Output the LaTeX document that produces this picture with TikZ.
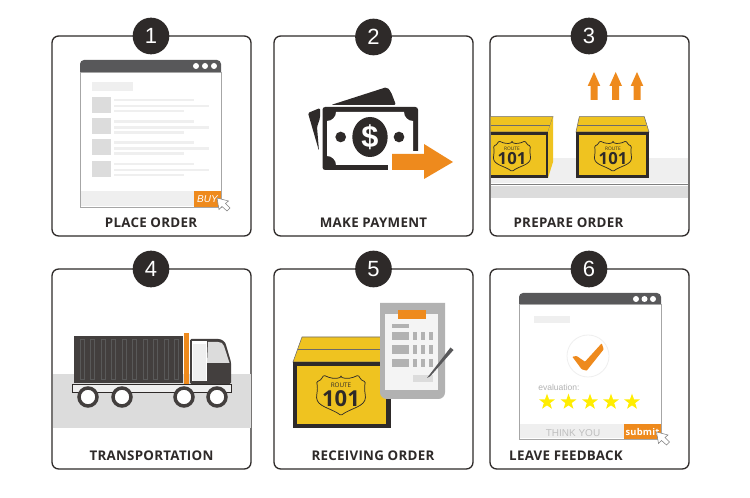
\documentclass[tikz,border=0pt]{standalone}
\usepackage{fontspec}
\setmainfont{Liberation Sans}
\newfontfamily\labelfont[LetterSpace=2]{Open Sans}
\newfontfamily\shieldfont{Open Sans}
\usepackage{tikz}
\usetikzlibrary{shapes.geometric, positioning}
\definecolor{inkdark}{HTML}{2E2A29}
\definecolor{barGray}{HTML}{58585A}
\definecolor{accent}{HTML}{EE8A1D}
\definecolor{boxYellow}{HTML}{EFC320}
\definecolor{paleGray}{HTML}{EFEFEF}
\definecolor{midGray}{HTML}{DCDCDC}

\begin{document}
\begin{tikzpicture}[x=0.75pt, y=-0.75pt,
  panel/.style={draw=inkdark, line width=1pt, fill=white, rounded corners=5pt, minimum width=149.25pt, minimum height=150pt},
  badge/.style={circle, fill=inkdark, text=white, minimum size=27.5pt, inner sep=0pt, font=\fontsize{16.5}{18}\selectfont},
  caption/.style={font=\labelfont\bfseries\fontsize{10}{12}\selectfont, text=inkdark, inner sep=0pt},
  ghost/.style={fill=paleGray},
  thumb/.style={fill=midGray},
  pane/.style={draw=gray!70, line width=0.7pt, fill=white},
  cursor/.pic={\draw[fill=white, draw=gray, line width=0.4pt] (0,0) -- (2,11.5) -- (5,8.5) -- (10,13) -- (13,10) -- (8.5,5.5) -- (11.5,3) -- cycle;},
  upArrow/.pic={\fill[accent] (0,0) -- (6.3,14) -- (3.5,14) -- (3.5,28) -- (-3.5,28) -- (-3.5,14) -- (-6.3,14) -- cycle;},
  shield/.pic={
    \draw[fill=boxYellow, draw=inkdark, line width=0.55pt, rounded corners=0.8pt]
      (0,-13.5) .. controls (-4,-12) and (-8,-12.5) .. (-13,-15) -- (-15,-12) .. controls (-16,-11) and (-17,-10.5) .. (-18.5,-10)
      .. controls (-17.5,-6) and (-18,-3) .. (-18.5,1) .. controls (-18.5,9) and (-7,10) .. (0,15.5)
      .. controls (7,10) and (18.5,9) .. (18.5,1) .. controls (18,-3) and (17.5,-6) .. (18.5,-10)
      .. controls (17,-10.5) and (16,-11) .. (15,-12) -- (13,-15) .. controls (8,-12.5) and (4,-12) .. (0,-13.5) -- cycle;
    \node[font=\shieldfont\fontsize{3.6}{4}\selectfont, text=inkdark, inner sep=0pt, transform shape] (-route) at (0,-7.5) {ROUTE};
    \node[font=\shieldfont\bfseries\fontsize{12.5}{14}\selectfont, text=inkdark, inner sep=0pt, transform shape] (-num) at (0,3) {101};
  },
]
\useasboundingbox (0,0) rectangle (750,498);
\fill[white] (0,0) rectangle (750,498);

% Panels
\node[panel] (panelA) at (151.5,136) {};
\node[panel] (panelB) at (373.5,136) {};
\node[panel] (panelC) at (589.5,136) {};
\node[panel] (panelD) at (151.5,369) {};
\node[panel] (panelE) at (373.5,369) {};
\node[panel] (panelF) at (589.5,369) {};

% Panel 1: browser
\draw[pane] (80,72) rectangle (221,207);
\fill[barGray] (80,72) [rounded corners=3pt] -- (80,60) -- (221,60) [sharp corners] -- (221,72) -- cycle;
\foreach \x in {196,205,214} \fill[white] (\x,66) circle[radius=3];
\fill[ghost] (92,82) rectangle (133,91);
\foreach \y in {0,21.2,42.4,63.6} {
  \fill[thumb] (92,97+\y) rectangle (111,113+\y);
  \fill[ghost] (114,99+\y) rectangle (194,101.5+\y);
  \fill[ghost] (114,105+\y) rectangle (209,107.5+\y);
  \fill[ghost] (114,110+\y) rectangle (184,112.5+\y);
}
\fill[paleGray] (81,191) rectangle (194,206.5);
\node[fill=accent, text=white, minimum width=20.25pt, minimum height=12pt, inner sep=0pt, font=\itshape\fontsize{7.5}{9}\selectfont] (buy) at (207.5,199) {BUY};
\pic at (217,198) {cursor};

% Panel 2: banknotes
\fill[inkdark, rounded corners=1.5pt] (331,105) -- (387,87) -- (391,92) -- (396,105) -- cycle;
\fill[inkdark, rounded corners=1pt] (308,113) -- (320,108) -- (320,118) -- (317,127) -- (319,151) -- cycle;
\fill[inkdark, rounded corners=2pt] (322.5,107) rectangle (418,170);
\fill[white] (336,112) -- (404,112) .. controls (404,117) and (408,121) .. (413,121) -- (413,156) .. controls (408,156) and (404,160) .. (404,165)
  -- (336,165) .. controls (336,160) and (332,156) .. (327,156) -- (327,121) .. controls (332,121) and (336,117) .. (336,112) -- cycle;
\node[ellipse, fill=inkdark, text=white, minimum width=26.5pt, minimum height=30pt, inner sep=0pt, font=\bfseries\fontsize{23}{24}\selectfont] (coin) at (370,137) {\$};
\node[circle, fill=inkdark, minimum size=8pt, inner sep=0pt] (dotL) at (340.7,137) {};
\node[circle, fill=inkdark, minimum size=8pt, inner sep=0pt] (dotR) at (399,137) {};
\fill[white] (388,151) rectangle (422,172);
\fill[accent] (392,154) -- (424,154) -- (424,144) -- (453,162) -- (424,179) -- (424,170) -- (392,170) -- cycle;

% Panel 3: conveyor
\fill[paleGray] (490.5,158) rectangle (688,183);
\fill[midGray] (490.5,186) rectangle (688,198);
\draw[gray, line width=1.3pt] (490.5,184.5) -- (688,184.5);
% left box
\draw[fill=boxYellow, draw=inkdark!70, line width=0.4pt] (490.5,116.7) -- (553,116.7) -- (548,132) -- (490.5,132);
\draw[draw=inkdark!70, line width=0.4pt] (490.5,125) -- (550,125);
\fill[boxYellow] (548,132) -- (553,116.7) -- (553,162) -- (548,178) -- cycle;
\draw[fill=boxYellow, draw=inkdark, line width=2.2pt] (490.5,133.5) -- (547,133.5) -- (547,176.5) -- (490.5,176.5);
\pic at (512,156) {shield};
% right box
\draw[fill=boxYellow, draw=inkdark!70, line width=0.4pt] (576,132) -- (579.3,116.7) -- (644.3,116.7) -- (649,132) -- cycle;
\draw[draw=inkdark!70, line width=0.4pt] (578,125) -- (646,125);
\draw[fill=boxYellow, draw=inkdark, line width=2.2pt] (577.5,133.5) rectangle (647.5,176.5);
\pic at (613,156) {shield};
\pic at (594,72) {upArrow};
\pic at (615.7,72) {upArrow};
\pic at (637,72) {upArrow};

% Panel 4: truck
\fill[midGray] (53,374) rectangle (250.5,428);
\fill[inkdark!90] (74,336) rectangle (183,383);
\foreach \x in {0,...,9} \draw[gray!70!black, line width=0.5pt] (82.3+10.5*\x-2,339) rectangle (82.3+10.5*\x+2,379);
\fill[accent] (184,333) rectangle (189,384);
\fill[inkdark!90, rounded corners=1pt] (190,339) -- (217,339) .. controls (222,339) and (225,342) .. (226,345) -- (231,362) -- (231,384) -- (190,384) -- cycle;
\fill[white] (191.5,341) rectangle (207,381.5);
\fill[paleGray] (192.5,344) rectangle (206,381);
\fill[midGray] (208,342) -- (218,342) .. controls (221,342) and (223,343) .. (224,346) -- (229.5,363) -- (207,363) -- cycle;
\draw[fill=paleGray, draw=inkdark, line width=0.6pt] (72,384) rectangle (231,392);
\foreach \x in {88,122,184,217} \draw[draw=inkdark!90, fill=white, line width=2.6pt] (\x,397) circle[radius=9];

% Panel 5: box with clipboard
\draw[fill=boxYellow, draw=inkdark!70, line width=0.4pt] (293,362) -- (302,337) -- (382,337) -- (382,362) -- cycle;
\draw[draw=inkdark!70, line width=0.4pt] (297.5,349) -- (382,349);
\draw[fill=boxYellow, draw=inkdark, line width=3.3pt] (295.2,364) rectangle (388.3,426);
\pic[scale=1.32, transform shape] at (341,395) {shield};
\fill[gray!60] (380,303) -- (445,303) [rounded corners=5pt] -- (445,399) -- (380,399) [sharp corners] -- cycle;
\fill[paleGray!70] (385,314) rectangle (438,390);
\fill[accent] (398,310) rectangle (426,319);
\fill[gray!60] (392,324) rectangle (409,328);
\foreach \y in {332,345.3,359} {
  \fill[gray!60] (392,\y) rectangle (409,\y+8.3);
  \fill[gray!60] (413,\y) rectangle (417,\y+8.3);
  \fill[gray!60] (421,\y) rectangle (425,\y+8.3);
  \fill[gray!60] (429,\y) rectangle (433,\y+8.3);
}
\fill[midGray] (413,375) rectangle (433,382);
\fill[barGray] (427,378) -- (450.5,347.5) -- (453.5,350) -- (430,376.5) -- cycle;

% Panel 6: feedback browser
\draw[pane] (519,304) rectangle (661,439);
\fill[barGray] (519,304) [rounded corners=3pt] -- (519,293) -- (661,293) [sharp corners] -- (661,304) -- cycle;
\foreach \x in {636,644.5,653} \fill[white] (\x,299) circle[radius=3];
\fill[ghost] (534,316) rectangle (570,323);
\draw[paleGray, line width=0.6pt, fill=white] (588,356) circle[radius=21];
\fill[accent, rounded corners=0.5pt] (572.3,356.7) -- (576.7,356) -- (585,361.7) -- (601.7,343.3) -- (603.7,349.3) -- (586.7,370.7) -- (581.7,369.3) -- cycle;
\node[text=gray!60, font=\fontsize{6.4}{8}\selectfont, inner sep=0pt, anchor=west] (evalText) at (538,387) {evaluation:};
\foreach \i/\x in {1/547,2/568.5,3/590,4/611,5/632}
  \node[star, star points=5, star point ratio=2.5, fill=yellow!95!orange, inner sep=0pt, minimum size=12.5pt] (star\i) at (\x,402) {};
\fill[paleGray] (520,424) rectangle (624,438.5);
\node[text=gray!50, font=\fontsize{7.5}{9}\selectfont, inner sep=0pt] (thanks) at (573,433) {THINK YOU};
\fill[accent] (624,424) rectangle (661,439);
\node[text=white, font=\labelfont\bfseries\fontsize{7}{9}\selectfont, inner sep=0pt] (submit) at (642.5,432) {submit};
\pic at (656.5,432) {cursor};

% Badges
\node[badge] (one) at (151,36) {1};
\node[badge] (two) at (373.5,37) {2};
\node[badge] (three) at (589,36) {3};
\node[badge] (four) at (151,269) {4};
\node[badge] (five) at (373.5,269) {5};
\node[badge] (six) at (589,269) {6};

% Captions
\node[caption] (capA) at (151,222.5) {PLACE ORDER};
\node[caption] (capB) at (373.5,222.5) {MAKE PAYMENT};
\node[caption] (capC) at (568.5,222.5) {PREPARE ORDER};
\node[caption] (capD) at (151.5,455.5) {TRANSPORTATION};
\node[caption] (capE) at (373,455.5) {RECEIVING ORDER};
\node[caption] (capF) at (566,455.5) {LEAVE FEEDBACK};
\end{tikzpicture}
\end{document}
